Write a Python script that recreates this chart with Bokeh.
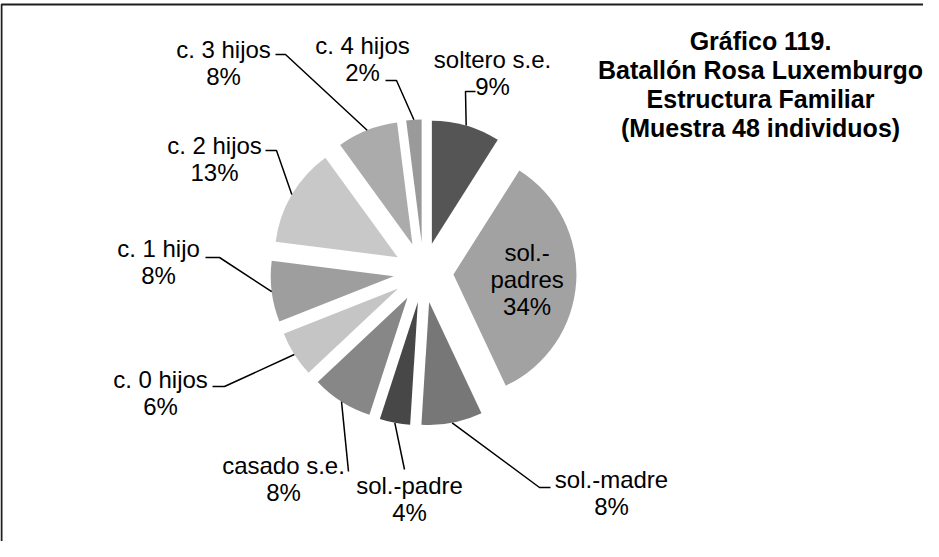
import math
from bokeh.plotting import figure
from bokeh.models import Range1d
from bokeh.core.properties import value
from bokeh.embed import file_html
from bokeh.resources import INLINE

# ---------------- data ----------------
categories = ["soltero s.e.", "sol.-padres", "sol.-madre", "sol.-padre", "casado s.e.",
              "c. 0 hijos", "c. 1 hijo", "c. 2 hijos", "c. 3 hijos", "c. 4 hijos"]
percentages = [9, 34, 8, 4, 8, 6, 8, 13, 8, 2]
slice_colors = ["#555555", "#a2a2a2", "#777777", "#474747", "#878787",
                "#c5c5c5", "#9e9e9e", "#c8c8c8", "#ababab", "#9a9a9a"]
title_lines = ["Gráfico 119.", "Batallón Rosa Luxemburgo",
               "Estructura Familiar", "(Muestra 48 individuos)"]

# ---------------- layout (screen pixels of the page) ----------------
W, H = 923, 541
PAGE_H = 557
CX, CY = 431, 280       # pie centre
R = 123                 # pie radius
EXPLODE = 30            # explosion distance of every slice
FONT = "Liberation Sans"
LABEL_SIZE = "24px"
LINE_GAP = 27

# label anchor (centre x, y of first line) and leader elbows, per slice
label_pos = {
    "soltero s.e.": (500, 67),
    "sol.-padres": None,
    "sol.-madre": (619, 487),
    "sol.-padre": (417, 493),
    "casado s.e.": (291, 473),
    "c. 0 hijos": (168, 387),
    "c. 1 hijo": (166, 256),
    "c. 2 hijos": (222, 153),
    "c. 3 hijos": (231, 57),
    "c. 4 hijos": (370, 53),
}
leader_pts = {
    "soltero s.e.": [(473, 99), (483, 99)],
    "sol.-madre": [(547, 495), (558, 495)],
    "sol.-padre": [(412, 477)],
    "casado s.e.": [(356, 479)],
    "c. 0 hijos": [(232, 394), (220, 394)],
    "c. 1 hijo": [(227, 265), (213, 265)],
    "c. 2 hijos": [(284, 158), (273, 158)],
    "c. 3 hijos": [(293, 62), (283, 62)],
    "c. 4 hijos": [(404, 88), (393, 88)],
}


def sy(y):
    return PAGE_H - y


p = figure(width=W, height=H, output_backend="svg", toolbar_location=None,
           x_range=Range1d(8, 8 + W), y_range=Range1d(PAGE_H - 8 - H, PAGE_H - 8),
           x_axis_type=None, y_axis_type=None, min_border=0)
p.grid.visible = False
p.outline_line_color = None
p.background_fill_color = "white"
p.border_fill_color = "white"

# chart border (top and left edges visible)
p.line([9, 9, 960], [sy(600), sy(12), sy(12)], line_color="#1e1e1e", line_width=2)

total = float(sum(percentages))
cum = 0.0
for cat, v, col in zip(categories, percentages, slice_colors):
    t1 = cum / total * 360.0
    t2 = (cum + v) / total * 360.0
    cum += v
    tm = math.radians((t1 + t2) / 2.0)
    ox = CX + EXPLODE * math.sin(tm)
    oy = sy(CY) + EXPLODE * math.cos(tm)
    p.wedge(x=[ox], y=[oy], radius=R,
            start_angle=[math.radians(90 - t2)], end_angle=[math.radians(90 - t1)],
            direction="anticlock", fill_color=col, line_color=None)

    pct = f"{v}%"
    if label_pos[cat] is None:
        # label inside the slice
        lx = ox + R * 0.6 * math.sin(tm)
        ly = oy + R * 0.6 * math.cos(tm)
        parts = ["sol.-", "padres", pct]
        ys = [ly + LINE_GAP, ly, ly - LINE_GAP]
        p.text(x=[lx] * 3, y=ys, text=parts, text_font=value(FONT),
               text_font_size=LABEL_SIZE, text_align="center",
               text_baseline="middle", text_color="black")
        continue

    # leader line from slice edge to the label
    ax = ox + R * math.sin(tm)
    ay = oy + R * math.cos(tm)
    xs = [ax] + [q[0] for q in leader_pts[cat]]
    ys = [ay] + [sy(q[1]) for q in leader_pts[cat]]
    p.line(xs, ys, line_color="black", line_width=1.5)

    lx, ly = label_pos[cat]
    p.text(x=[lx, lx], y=[sy(ly), sy(ly + LINE_GAP)], text=[cat, pct],
           text_font=value(FONT), text_font_size=LABEL_SIZE, text_align="center",
           text_baseline="middle", text_color="black")

# title
title_y = [48, 77, 106, 135]
p.text(x=[768] * 4, y=[sy(y) for y in title_y], text=title_lines,
       text_font=value(FONT), text_font_size="25px", text_font_style="bold",
       text_align="center", text_baseline="middle", text_color="black")

open("out.html", "w").write(file_html(p, INLINE))
